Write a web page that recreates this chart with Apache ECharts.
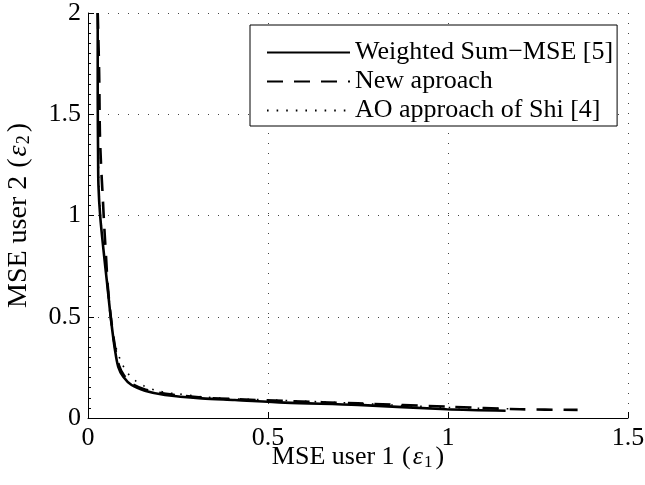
<!DOCTYPE html>
<html>
<head>
<meta charset="utf-8">
<script src="https://cdn.jsdelivr.net/npm/echarts@6/dist/echarts.min.js"></script>
<style>html,body{margin:0;padding:0;background:#fff}#c{width:645px;height:485px}</style>
</head>
<body>
<div id="c"></div>
<script>
var seriesNames = ['Weighted Sum\u2212MSE [5]', 'New aproach', 'AO approach of Shi [4]'];
var xTicks = ['0', '0.5', '1', '1.5'];
var yTicks = ['0', '0.5', '1', '1.5', '2'];

var wsX = [0.027,0.027,0.028,0.029,0.034,0.043,0.053,0.064,0.075,0.084,0.098,0.121,0.158,0.214,0.316,0.408,0.547,0.75,0.996,1.16];
var wsY = [2.0,1.6,1.3,1.15,0.994,0.83,0.666,0.484,0.336,0.253,0.204,0.163,0.135,0.114,0.097,0.089,0.076,0.065,0.043,0.036];

var newX = [0.027,0.031,0.033,0.036,0.041,0.045,0.05,0.055,0.064,0.076,0.086,0.10,0.123,0.16,0.216,0.318,0.41,0.55,0.75,1.0,1.2,1.36];
var newY = [2.0,1.7,1.41,1.26,1.09,0.95,0.8,0.65,0.49,0.34,0.26,0.21,0.168,0.14,0.119,0.101,0.093,0.084,0.072,0.056,0.043,0.04];

var aoX = [0.027,0.028,0.03,0.035,0.044,0.054,0.066,0.07,0.08,0.092,0.107,0.129,0.156,0.186,0.219,0.251,0.316,0.381,0.445,0.51,0.75,1.0,1.2];
var aoY = [2.0,1.5,1.15,0.99,0.83,0.67,0.451,0.393,0.336,0.278,0.229,0.188,0.158,0.138,0.125,0.119,0.105,0.097,0.092,0.089,0.072,0.052,0.045];

function pairs(xs, ys){ return xs.map(function(x,i){ return [x, ys[i]]; }); }

var FONT = 'Liberation Serif';
var chart = echarts.init(document.getElementById('c'), null, {renderer:'canvas'});
var gridLine = {show:true, lineStyle:{color:'#444', width:1, type:[1,9]}};
function nameRich(fs){
  return {
    n:{fontFamily:FONT, fontSize:fs, color:'#000'},
    p:{fontFamily:FONT, fontSize:fs, color:'#000', padding:[0,0,0,1]},
    e:{fontFamily:FONT, fontSize:fs, fontStyle:'italic', color:'#000', padding:[0,1,0,2]},
    s:{fontFamily:FONT, fontSize:Math.round(fs*0.66), color:'#000', padding:[10,3,0,0]}
  };
}
chart.setOption({
  animation:false,
  backgroundColor:'#fff',
  grid:{left:88, right:17, top:13, bottom:67, containLabel:false, outerBoundsMode:'none'},
  xAxis:{
    type:'value', min:0, max:1.5, interval:0.5,
    axisLine:{show:true, onZero:false, lineStyle:{color:'#000', width:1}},
    axisTick:{show:true, inside:true, length:6, lineStyle:{color:'#000'}},
    axisLabel:{color:'#000', fontFamily:FONT, fontSize:26, margin:7,
      formatter:function(v){ var i = Math.round(v/0.5); return xTicks[i]; }},
    splitLine:gridLine,
    name:'{n|MSE user 1 }{p|(}{e|\u03b5}{s|1}{n|)}',
    nameLocation:'middle', nameGap:26, nameMoveOverlap:false,
    nameTextStyle:{rich:nameRich(26)}
  },
  yAxis:{
    type:'value', min:0, max:2, interval:0.5,
    axisLine:{show:true, onZero:false, lineStyle:{color:'#000', width:1}},
    axisTick:{show:true, inside:true, length:6, lineStyle:{color:'#000'}},
    minorTick:{show:true, splitNumber:10, length:3, lineStyle:{color:'#000'}},
    axisLabel:{color:'#000', fontFamily:FONT, fontSize:26, margin:7,
      formatter:function(v){ var i = Math.round(v/0.5); return yTicks[i]; }},
    splitLine:gridLine,
    name:'{n|MSE user 2 }{p|(}{e|\u03b5}{s|2}{n|)}',
    nameLocation:'middle', nameGap:55, nameMoveOverlap:false,
    nameTextStyle:{rich:nameRich(28)}
  },
  legend:{
    orient:'vertical', left:250, top:25,
    data:seriesNames,
    itemWidth:83, itemHeight:14, itemGap:2,
    padding:[14,4,2,16],
    backgroundColor:'#fff', borderColor:'#000', borderWidth:1, borderRadius:0,
    itemStyle:{opacity:0},
    textStyle:{fontFamily:FONT, fontSize:26, color:'#000', lineHeight:27},
    selectedMode:false
  },
  series:[
    {name:seriesNames[0], type:'line', data:pairs(wsX, wsY), symbol:'none', smooth:0.3, clip:true,
      lineStyle:{color:'#000', width:2.6, type:'solid'}, itemStyle:{color:'#000'}},
    {name:seriesNames[1], type:'line', data:pairs(newX, newY), symbol:'none', smooth:0.3, clip:true,
      lineStyle:{color:'#000', width:2.6, type:[16,11]}, itemStyle:{color:'#000'}},
    {name:seriesNames[2], type:'line', data:pairs(aoX, aoY), symbol:'none', smooth:0.3, clip:true,
      lineStyle:{color:'#000', width:1.6, type:[1.6,8]}, itemStyle:{color:'#000'}}
  ]
});
</script>
</body>
</html>
